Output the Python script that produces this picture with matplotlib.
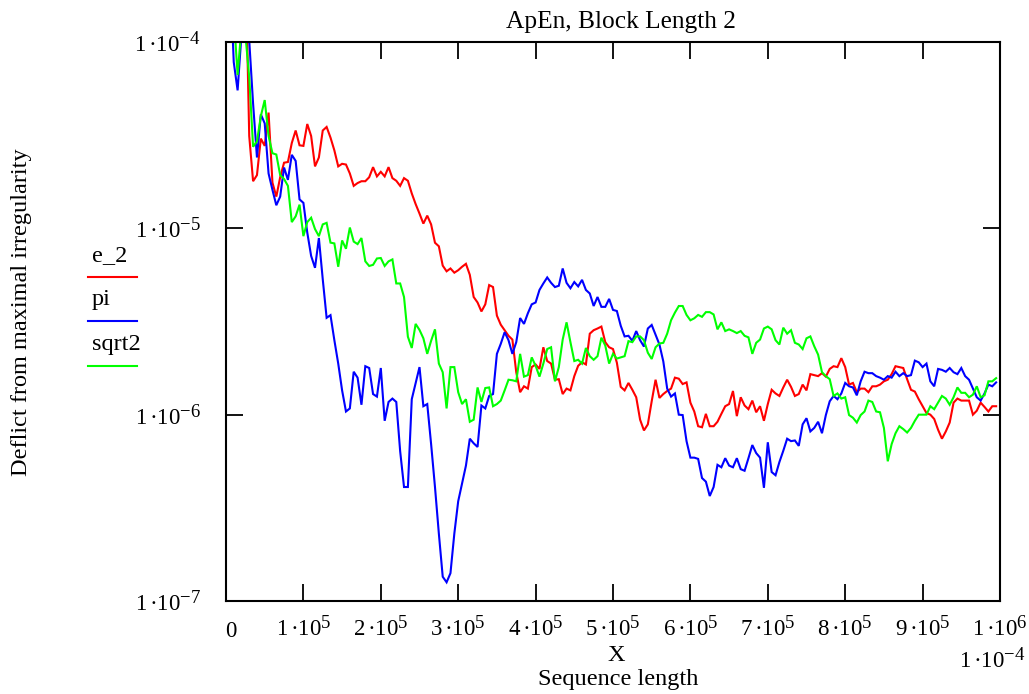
import numpy as np
import matplotlib
matplotlib.use("Agg")
import matplotlib.pyplot as plt
from matplotlib.lines import Line2D
from matplotlib import transforms

try:  # Mathcad-style superscripts are nearly full size
    import matplotlib._mathtext as _mt
    _mt.SHRINK_FACTOR = 0.82
except Exception:
    pass

plt.rcParams['font.family'] = ['Liberation Serif', 'DejaVu Serif']
plt.rcParams['mathtext.fontset'] = 'custom'
plt.rcParams['mathtext.rm'] = 'Liberation Serif'
plt.rcParams['mathtext.it'] = 'Liberation Serif:italic'
plt.rcParams['mathtext.bf'] = 'Liberation Serif:bold'

# ---------------- data ----------------
step = 5000
seq_len = np.arange(1, 200) * step          # 5000 ... 995000

series_names = ["e_2", "pi", "sqrt2"]
series_colors = ["#ff0000", "#0000ff", "#00ff00"]

# values in units of 1e-6
e_2 = [
    300, 300, 300, 300, 300, 31.3, 17.9, 19.3, 30.3, 27.7,
    41.8, 17.6, 14.8, 18.8, 22.5, 22.7, 28.7, 33.5, 27.9, 27.7,
    36.3, 31.3, 21.5, 24.0, 33.5, 35.0, 30.7, 26.2, 21.5, 22.2,
    22.0, 19.7, 16.9, 17.5, 17.9, 17.9, 18.8, 21.3, 19.0, 20.1,
    19.0, 21.3, 18.6, 18.0, 16.9, 18.6, 18.0, 15.4, 13.5, 12.0,
    10.6, 11.7, 10.5, 8.37, 8.01, 6.31, 5.88, 6.09, 5.78, 5.96,
    6.22, 6.45, 5.63, 4.28, 4.00, 3.58, 3.91, 4.96, 4.84, 3.40,
    3.04, 2.84, 2.65, 2.53, 1.69, 1.32, 1.42, 1.38, 1.80, 1.86,
    1.76, 2.30, 1.94, 1.88, 1.54, 1.55, 1.29, 1.38, 1.35, 1.61,
    1.83, 1.91, 1.86, 2.72, 2.84, 2.90, 2.97, 2.45, 2.30, 2.25,
    1.90, 1.41, 1.35, 1.48, 1.36, 1.24, 0.94, 0.823, 0.887, 1.18,
    1.54, 1.23, 1.29, 1.34, 1.38, 1.58, 1.56, 1.46, 1.49, 1.16,
    1.04, 0.867, 0.856, 1.01, 0.867, 0.867, 0.916, 1.01, 1.11, 1.14,
    1.34, 0.982, 1.24, 1.12, 1.07, 1.19, 1.03, 1.11, 0.927, 1.14,
    1.36, 1.30, 1.26, 1.40, 1.54, 1.41, 1.26, 1.29, 1.45, 1.35,
    1.65, 1.63, 1.61, 1.67, 1.60, 1.76, 1.82, 1.80, 2.01, 1.80,
    1.45, 1.48, 1.32, 1.38, 1.38, 1.32, 1.42, 1.42, 1.45, 1.51,
    1.54, 1.65, 1.82, 1.80, 1.78, 1.55, 1.36, 1.33, 1.21, 1.11,
    1.02, 1.00, 0.948, 0.83, 0.743, 0.813, 0.907, 1.16, 1.22, 1.19,
    1.19, 1.19, 1.00, 1.05, 1.16, 1.10, 1.04, 1.11, 1.11,
]

pi = [
    250, 78, 55, 110, 120, 102, 46.7, 24.0, 40.9, 36.6,
    19.7, 16.1, 13.3, 14.8, 21.2, 18.2, 24.8, 23.0, 14.3, 13.7,
    9.49, 7.11, 6.14, 8.87, 5.33, 3.31, 3.42, 2.51, 1.88, 1.35,
    1.04, 1.08, 1.70, 1.58, 1.13, 1.82, 1.78, 1.29, 1.25, 1.78,
    0.927, 1.17, 1.22, 1.17, 0.637, 0.409, 0.409, 1.21, 1.48, 1.80,
    1.11, 1.14, 0.695, 0.409, 0.230, 0.135, 0.126, 0.141, 0.230, 0.343,
    0.427, 0.533, 0.743, 0.702, 0.671, 1.12, 1.08, 1.26, 1.29, 2.12,
    2.40, 2.77, 2.51, 2.12, 2.45, 3.30, 3.07, 3.50, 3.91, 4.00,
    4.67, 5.06, 5.45, 5.10, 4.84, 4.92, 6.09, 5.10, 4.77, 5.15,
    4.88, 5.29, 4.67, 4.47, 3.83, 4.28, 3.79, 3.79, 4.18, 3.65,
    3.60, 3.00, 2.63, 2.65, 2.49, 2.81, 2.51, 2.32, 2.90, 3.03,
    2.69, 2.38, 1.93, 1.38, 1.25, 1.30, 1.00, 0.995, 0.721, 0.588,
    0.588, 0.579, 0.457, 0.437, 0.366, 0.409, 0.538, 0.522, 0.584, 0.533,
    0.522, 0.584, 0.510, 0.500, 0.584, 0.687, 0.622, 0.588, 0.405, 0.711,
    0.492, 0.473, 0.557, 0.640, 0.743, 0.721, 0.727, 0.680, 0.887, 0.957,
    0.813, 0.849, 0.916, 0.795, 0.995, 1.18, 1.26, 1.21, 1.30, 1.48,
    1.42, 1.40, 1.27, 1.51, 1.70, 1.67, 1.67, 1.61, 1.58, 1.54,
    1.61, 1.58, 1.70, 1.61, 1.67, 1.61, 1.63, 1.95, 1.91, 1.80,
    1.88, 1.51, 1.42, 1.76, 1.74, 1.70, 1.78, 1.69, 1.65, 1.78,
    1.61, 1.54, 1.38, 1.24, 1.19, 1.30, 1.45, 1.42, 1.49,
]

sqrt2 = [
    200, 140, 66.5, 120, 110, 65, 27.4, 29.3, 40.0, 48.8,
    31.3, 25.3, 24.9, 19.3, 18.4, 16.9, 10.8, 11.6, 13.4, 9.08,
    10.8, 11.4, 9.91, 9.08, 10.5, 10.7, 8.38, 8.30, 6.22, 8.61,
    7.77, 10.1, 8.49, 8.23, 8.87, 6.65, 6.28, 6.37, 6.89, 6.93,
    6.28, 6.65, 6.81, 5.06, 5.06, 4.28, 2.62, 2.28, 3.07, 2.85,
    2.57, 2.12, 2.49, 2.87, 1.88, 1.69, 1.08, 1.80, 1.80, 1.32,
    1.14, 1.21, 0.916, 0.94, 1.40, 1.17, 1.39, 1.40, 1.11, 1.14,
    1.19, 1.35, 1.54, 1.53, 1.51, 2.12, 1.60, 1.63, 2.03, 1.83,
    1.60, 1.88, 2.25, 2.30, 1.51, 1.80, 2.53, 3.13, 2.45, 1.94,
    1.97, 1.88, 2.28, 2.06, 1.97, 2.06, 2.59, 2.35, 1.88, 2.12,
    2.00, 2.03, 2.06, 2.48, 2.45, 2.63, 2.63, 2.51, 2.15, 1.99,
    2.30, 2.41, 2.43, 2.72, 3.21, 3.53, 3.83, 3.83, 3.43, 3.21,
    3.29, 3.43, 3.35, 3.55, 3.55, 3.45, 2.87, 3.13, 2.81, 2.87,
    2.81, 2.74, 2.81, 2.65, 2.60, 2.12, 2.43, 2.53, 2.90, 2.97,
    2.87, 2.51, 2.38, 2.93, 2.72, 2.84, 2.43, 2.38, 2.25, 2.57,
    2.63, 2.33, 2.10, 1.69, 1.61, 1.55, 1.26, 1.30, 1.22, 1.24,
    0.995, 0.963, 0.907, 0.995, 1.04, 1.19, 1.17, 1.04, 1.03, 0.849,
    0.562, 0.695, 0.795, 0.867, 0.837, 0.802, 0.849, 0.927, 1.00, 1.00,
    1.00, 1.11, 1.07, 1.16, 1.26, 1.22, 1.13, 1.24, 1.40, 1.31,
    1.31, 1.24, 1.28, 1.42, 1.24, 1.27, 1.51, 1.51, 1.57,
]

x_ticks = np.arange(0, 11) * 100000
x_tick_labels = ["0"] + [r"$\mathrm{%d\,·10^{5}}$" % i for i in range(1, 10)] + [r"$\mathrm{1\,·10^{6}}$"]
y_ticks = [1e-7, 1e-6, 1e-5, 1e-4]
y_tick_labels = [r"$\mathrm{1\,·10^{-7}}$", r"$\mathrm{1\,·10^{-6}}$",
                 r"$\mathrm{1\,·10^{-5}}$", r"$\mathrm{1\,·10^{-4}}$"]

# ---------------- figure ----------------
W, H = 1029, 694
fig = plt.figure(figsize=(W / 100, H / 100), dpi=100)
ax = fig.add_axes([226 / W, 1 - 601 / H, 774 / W, 559 / H])

for vals, col in zip([e_2, pi, sqrt2], series_colors):
    ax.plot(seq_len, np.array(vals) * 1e-6, color=col, lw=1.5, solid_joinstyle='miter')

ax.set_yscale('log')
ax.set_xlim(0, 1e6)
ax.set_ylim(1e-7, 1e-4)
ax.set_xticks(x_ticks)
ax.set_xticklabels(x_tick_labels)
ax.set_yticks(y_ticks)
ax.set_yticklabels(y_tick_labels)
ax.minorticks_off()
ax.tick_params(axis='both', direction='in', top=True, right=True,
               length=12, width=1.3, labelsize=16.5, color='black')
ax.tick_params(axis='x', pad=11)
ax.tick_params(axis='y', pad=18)
for s in ax.spines.values():
    s.set_linewidth(1.5)

# shift "0" label slightly right as in the reference
lbl0 = ax.xaxis.get_major_ticks()[0].label1
lbl0.set_transform(lbl0.get_transform() + transforms.ScaledTranslation(5 / 100, -5 / 100, fig.dpi_scale_trans))

fs = 17.5
fig.text(621 / W, 1 - 28 / H, "ApEn, Block Length 2", ha='center', va='baseline', fontsize=18.3)
fig.text(616 / W, 1 - 661 / H, "X", ha='center', va='baseline', fontsize=fs)
fig.text(618 / W, 1 - 685 / H, "Sequence length", ha='center', va='baseline', fontsize=fs)
fig.text(992 / W, 1 - 668 / H, r"$\mathrm{1\,·10^{-4}}$", ha='center', va='baseline', fontsize=16.5)
fig.text(22 / W, 1 - 312 / H, "Deflict from maximal irregularity", rotation=90,
         ha='center', va='center', fontsize=fs)

# legend (Mathcad style: label above line)
leg_line_y = [277, 321, 366]
for name, col, ly in zip(series_names, series_colors, leg_line_y):
    fig.text(92 / W, 1 - (ly - 16) / H, name, ha='left', va='baseline', fontsize=fs)
    fig.add_artist(Line2D([88 / W, 137 / W], [1 - ly / H, 1 - ly / H], color=col, lw=1.5,
                          transform=fig.transFigure))

fig.savefig("out.png", dpi=100)
